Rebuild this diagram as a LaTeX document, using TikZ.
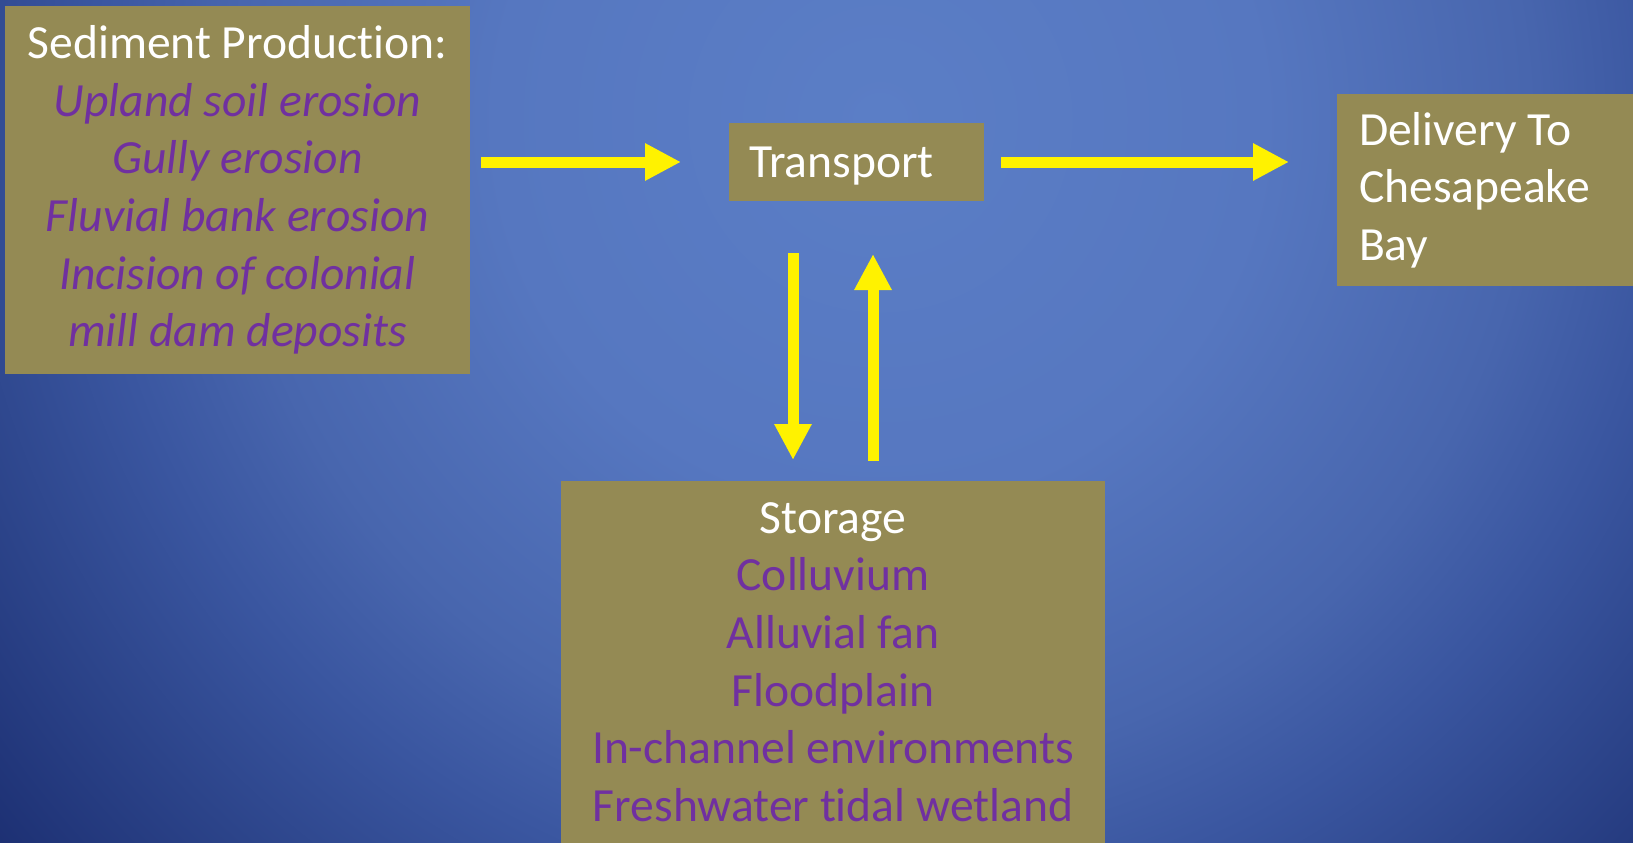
\documentclass[tikz,border=0pt]{standalone}
\usepackage{fontspec}
\setmainfont[Ligatures=NoCommon]{Carlito}
\usetikzlibrary{arrows.meta}
\definecolor{boxolive}{HTML}{948A54}
\definecolor{itempurple}{HTML}{7030A0}
\definecolor{bgA}{HTML}{5B7EC6}
\definecolor{bgB}{HTML}{5677C0}
\definecolor{bgC}{HTML}{4866AE}
\definecolor{bgD}{HTML}{3A56A0}
\definecolor{bgE}{HTML}{2C448A}
\definecolor{bgF}{HTML}{1C2F72}
\pgfdeclareradialshading{slidebg}{\pgfpoint{0bp}{0bp}}{color(0bp)=(bgA); color(8bp)=(bgB); color(13.5bp)=(bgC); color(16.5bp)=(bgD); color(20bp)=(bgE); color(24bp)=(bgF); color(50bp)=(bgF)}

\begin{document}
\begin{tikzpicture}[x=1pt,y=-1pt,
  box/.style={fill=boxolive,inner sep=0pt,outer sep=0pt,text=white,font=\fontsize{47.6}{57.6}\selectfont},
  flow/.style={draw=yellow,line width=11pt,-{Triangle[length=36pt,width=35pt]}}]
\newcommand{\srcline}[1]{\textcolor{itempurple}{\itshape #1}}
\newcommand{\storeline}[1]{\textcolor{itempurple}{#1}}

\useasboundingbox (0,0) rectangle (1633,843);
\begin{scope}
\clip (0,0) rectangle (1633,843);
\shade[shading=slidebg] (880,120) circle (1200pt);
\end{scope}

\node[box,anchor=north west,minimum width=465pt,minimum height=368pt,align=center] (sed) at (5,6)
  {Sediment Production:\\\srcline{Upland soil erosion}\\\srcline{Gully erosion}\\\srcline{Fluvial bank erosion}\\\srcline{Incision of colonial}\\\srcline{mill dam deposits}};
\node[box,anchor=north west,text width=215pt,inner xsep=20pt,text height=54pt,text depth=24pt,align=flush left] (tr) at (729,123) {Transport};
\node[box,anchor=north west,text width=256pt,inner xsep=22pt,minimum height=192pt,align=flush left] (del) at (1337,94)
  {Delivery To\\Chesapeake\\Bay};
\node[box,anchor=north,minimum width=544pt,minimum height=362pt,align=center] (st) at (833,481)
  {Storage\\\storeline{Colluvium}\\\storeline{Alluvial fan}\\\storeline{Floodplain}\\\storeline{In-channel environments}\\\storeline{Freshwater tidal wetland}};

\draw[flow,shorten <=11pt,shorten >=48pt] (sed.east |- tr.west) -- (tr.west);
\draw[flow,shorten <=17pt,shorten >=48pt] (tr.east) -- (tr.east -| del.west);
\draw[flow,shorten <=52pt,shorten >=21pt] ([xshift=-40pt]st.north |- tr.south) -- ([xshift=-40pt]st.north);
\draw[flow,shorten <=20pt,shorten >=53pt] ([xshift=40pt]st.north) -- ([xshift=40pt]st.north |- tr.south);
\end{tikzpicture}
\end{document}
